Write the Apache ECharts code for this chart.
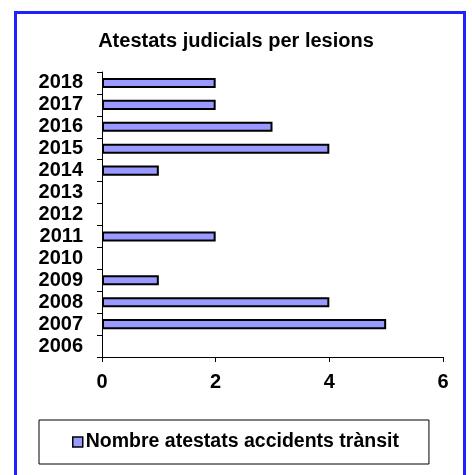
<!DOCTYPE html>
<html>
<head>
<meta charset="utf-8">
<script src="https://cdn.jsdelivr.net/npm/echarts@6/dist/echarts.min.js"></script>
<style>
  html, body { margin: 0; padding: 0; background: #fff; }
  #frame { position: absolute; left: 14px; top: 11px; width: 446px; height: 470px; border: 3px solid #1f1fff; }
  #chart { position: absolute; left: 0; top: 0; width: 472px; height: 475px; }
</style>
</head>
<body>
<div id="frame"></div>
<div id="chart"></div>
<script>
// dades
const years = ["2006", "2007", "2008", "2009", "2010", "2011", "2012", "2013", "2014", "2015", "2016", "2017", "2018"];
const atestats = [0, 5, 4, 1, 0, 2, 0, 0, 1, 4, 3, 2, 2];
const seriesName = "Nombre atestats accidents trànsit";
const titleText = "Atestats judicials per lesions";

const font = "Liberation Sans, Arial, sans-serif";
const chart = echarts.init(document.getElementById("chart"));

// les barres a zero no han de dibuixar la vora
const barData = atestats.map(v => v === 0 ? { value: v, itemStyle: { borderWidth: 0 } } : v);

chart.setOption({
  animation: false,
  title: {
    text: titleText,
    left: "center",
    top: 26,
    textStyle: { fontFamily: font, fontWeight: "bold", fontSize: 20, color: "#000" }
  },
  grid: { left: 102, right: 29, top: 72, bottom: 118, containLabel: false },
  legend: {
    data: [seriesName],
    left: 39,
    top: 420,
    padding: [12, 30, 12, 33],
    borderColor: "#000",
    borderWidth: 1,
    itemWidth: 10,
    itemHeight: 10,
    itemGap: 4,
    icon: "rect",
    itemStyle: { borderColor: "#000", borderWidth: 1.5 },
    textStyle: { fontFamily: font, fontWeight: "bold", fontSize: 19.5, color: "#000", padding: [0, 0, 0, -2] }
  },
  xAxis: {
    type: "value",
    min: 0,
    max: 6,
    interval: 2,
    splitLine: { show: false },
    axisLine: { show: true, lineStyle: { color: "#000", width: 1 } },
    axisTick: { show: true, length: 5, lineStyle: { color: "#000" } },
    axisLabel: { fontFamily: font, fontWeight: "bold", fontSize: 20, color: "#000", margin: 15 }
  },
  yAxis: {
    type: "category",
    data: years,
    axisLine: { show: true, lineStyle: { color: "#000", width: 1 } },
    axisTick: { show: true, length: 5, interval: 0, alignWithLabel: false, lineStyle: { color: "#000" } },
    axisLabel: { interval: 0, fontFamily: font, fontWeight: "bold", fontSize: 20, color: "#000", margin: 19 }
  },
  series: [{
    name: seriesName,
    type: "bar",
    data: barData,
    barWidth: "46%",
    itemStyle: { color: "#9999ff", borderColor: "#000", borderWidth: 2 }
  }]
});
</script>
</body>
</html>
